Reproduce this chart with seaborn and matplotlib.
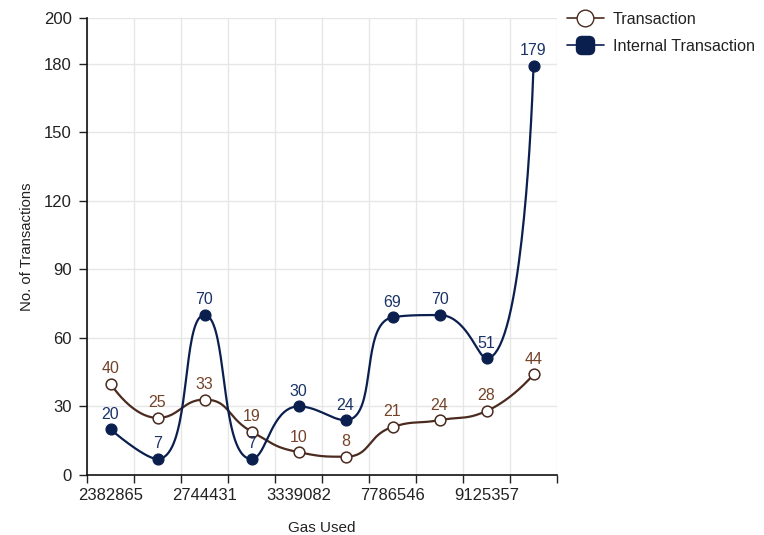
import numpy as np
import pandas as pd
import matplotlib
matplotlib.use("Agg")
import matplotlib.pyplot as plt
from matplotlib.lines import Line2D
from matplotlib.patches import BoxStyle
from matplotlib.ticker import FixedLocator
import seaborn as sns

# Gas used buckets (only every other bucket carries a visible label)
gas_labels = ["2382865", "2744431", "3339082", "7786546", "9125357"]
label_positions = [0, 2, 4, 6, 8]
n_buckets = 10

transaction = [40, 25, 33, 19, 10, 8, 21, 24, 28, 44]
internal_transaction = [20, 7, 70, 7, 30, 24, 69, 70, 51, 179]

y_ticks = [0, 30, 60, 90, 120, 150, 180, 200]

TX_LINE = "#4b2b1f"
TX_TEXT = "#74432a"
INT_LINE = "#0b1f4f"
INT_TEXT = "#1b3366"
GRID = "#e6e6e6"
TEXT = "#222222"


def smooth_bezier(px, py, smooth=0.5, steps=40):
    """Smoothed poly-line in display space: cubic beziers whose control points are
    scaled by neighbouring segment lengths and clamped to each segment's extent."""
    n = len(px)
    segs = []
    cp0 = (px[0], py[0])
    for i in range(1, n):
        x, y = px[i], py[i]
        prev_x, prev_y = px[i - 1], py[i - 1]
        if i == n - 1:
            cp1 = (x, y)
            next_cp0 = None
        else:
            nx, ny = px[i + 1], py[i + 1]
            vx, vy = nx - prev_x, ny - prev_y
            len_prev = np.hypot(x - prev_x, y - prev_y)
            len_next = np.hypot(nx - x, ny - y)
            ratio = len_next / (len_next + len_prev)
            ncx = x + vx * smooth * ratio
            ncy = y + vy * smooth * ratio
            ncx = max(min(ncx, max(nx, x)), min(nx, x))
            ncy = max(min(ncy, max(ny, y)), min(ny, y))
            vx, vy = ncx - x, ncy - y
            c1x = x - vx * len_prev / len_next
            c1y = y - vy * len_prev / len_next
            c1x = max(min(c1x, max(prev_x, x)), min(prev_x, x))
            c1y = max(min(c1y, max(prev_y, y)), min(prev_y, y))
            vx, vy = x - c1x, y - c1y
            ncx = x + vx * len_next / len_prev
            ncy = y + vy * len_next / len_prev
            cp1 = (c1x, c1y)
            next_cp0 = (ncx, ncy)
        t = np.linspace(0, 1, steps)[:, None]
        p0 = np.array([prev_x, prev_y])
        p1 = np.array(cp0)
        p2 = np.array(cp1)
        p3 = np.array([x, y])
        seg = ((1 - t) ** 3) * p0 + 3 * ((1 - t) ** 2) * t * p1 + 3 * (1 - t) * t ** 2 * p2 + t ** 3 * p3
        segs.append(seg if i == 1 else seg[1:])
        cp0 = next_cp0
    return np.vstack(segs)


def rounded_square():
    return BoxStyle.Round(pad=0, rounding_size=0.3)(-0.5, -0.5, 1.0, 1.0, 1.0)


sns.set_theme(style="white")
plt.rcParams["font.family"] = ["Liberation Sans", "DejaVu Sans"]

df = pd.DataFrame({
    "bucket": np.arange(n_buckets),
    "Transaction": transaction,
    "Internal Transaction": internal_transaction,
})

fig = plt.figure(figsize=(7.64, 5.35), dpi=100)
ax = fig.add_axes([87 / 764, 1 - 475 / 535, 470 / 764, 457 / 535])
ax.set_xlim(-0.5, n_buckets - 0.5)
ax.set_ylim(0, 200)


def draw_curve(values, color):
    pts = ax.transData.transform(np.column_stack([df["bucket"], values]).astype(float))
    path = smooth_bezier(pts[:, 0], pts[:, 1])
    data = ax.transData.inverted().transform(path)
    ax.plot(data[:, 0], data[:, 1], color=color, lw=1.6, zorder=3, solid_capstyle="round")


draw_curve(df["Transaction"], TX_LINE)
draw_curve(df["Internal Transaction"], INT_LINE)

# point markers
sns.scatterplot(data=df, x="bucket", y="Transaction", ax=ax, s=60, color="white",
                edgecolor=TX_LINE, linewidth=1.1, zorder=4, legend=False)
sns.scatterplot(data=df, x="bucket", y="Internal Transaction", ax=ax, s=60, color=INT_LINE,
                edgecolor=INT_LINE, linewidth=1, zorder=5, legend=False)

# value labels
for x, v in zip(df["bucket"], df["Transaction"]):
    ax.annotate(str(v), (x, v), xytext=(0, 5.5), textcoords="offset points",
                ha="center", va="bottom", fontsize=11.5, color=TX_TEXT, zorder=6)
for x, v in zip(df["bucket"], df["Internal Transaction"]):
    ax.annotate(str(v), (x, v), xytext=(0, 5.5), textcoords="offset points",
                ha="center", va="bottom", fontsize=11.5, color=INT_TEXT, zorder=6)

ax.set_xlim(-0.5, n_buckets - 0.5)
ax.set_ylim(0, 200)

ax.set_xticks(label_positions)
ax.set_xticklabels(gas_labels)
ax.xaxis.set_minor_locator(FixedLocator(np.arange(-0.5, n_buckets, 1.0)))
ax.tick_params(axis="x", which="major", length=0, pad=9, labelsize=12, labelcolor=TEXT)
ax.tick_params(axis="x", which="minor", length=6, width=1, color="#222222", bottom=True)
ax.set_yticks(y_ticks)
ax.tick_params(axis="y", which="major", length=6, width=1, color="#222222", left=True,
               pad=5, labelsize=12, labelcolor=TEXT)

ax.grid(False)
ax.xaxis.grid(True, which="minor", color=GRID, lw=1)
ax.yaxis.grid(True, which="major", color=GRID, lw=1)
ax.set_axisbelow(True)

for side in ("top", "right"):
    ax.spines[side].set_visible(False)
for side in ("left", "bottom"):
    ax.spines[side].set_color("#111111")
    ax.spines[side].set_linewidth(1.2)

ax.set_xlabel("Gas Used", fontsize=11, color=TEXT, labelpad=13)
ax.set_ylabel("No. of Transactions", fontsize=10.7, color=TEXT, labelpad=7)

handles = [
    Line2D([0], [0], color=TX_LINE, lw=1.2, marker="o", markersize=12,
           markerfacecolor="white", markeredgecolor=TX_LINE, markeredgewidth=1),
    Line2D([0], [0], color=INT_LINE, lw=1.2, marker=rounded_square(), markersize=13,
           markerfacecolor=INT_LINE, markeredgecolor=INT_LINE),
]
fig.legend(handles, ["Transaction", "Internal Transaction"], loc="upper left",
           bbox_to_anchor=(557 / 764, 1 - 2 / 535), frameon=False, fontsize=11.6,
           handlelength=2.3, handletextpad=0.55, labelspacing=0.75, labelcolor=TEXT,
           borderaxespad=0.2)

fig.savefig("out.png", dpi=100)
